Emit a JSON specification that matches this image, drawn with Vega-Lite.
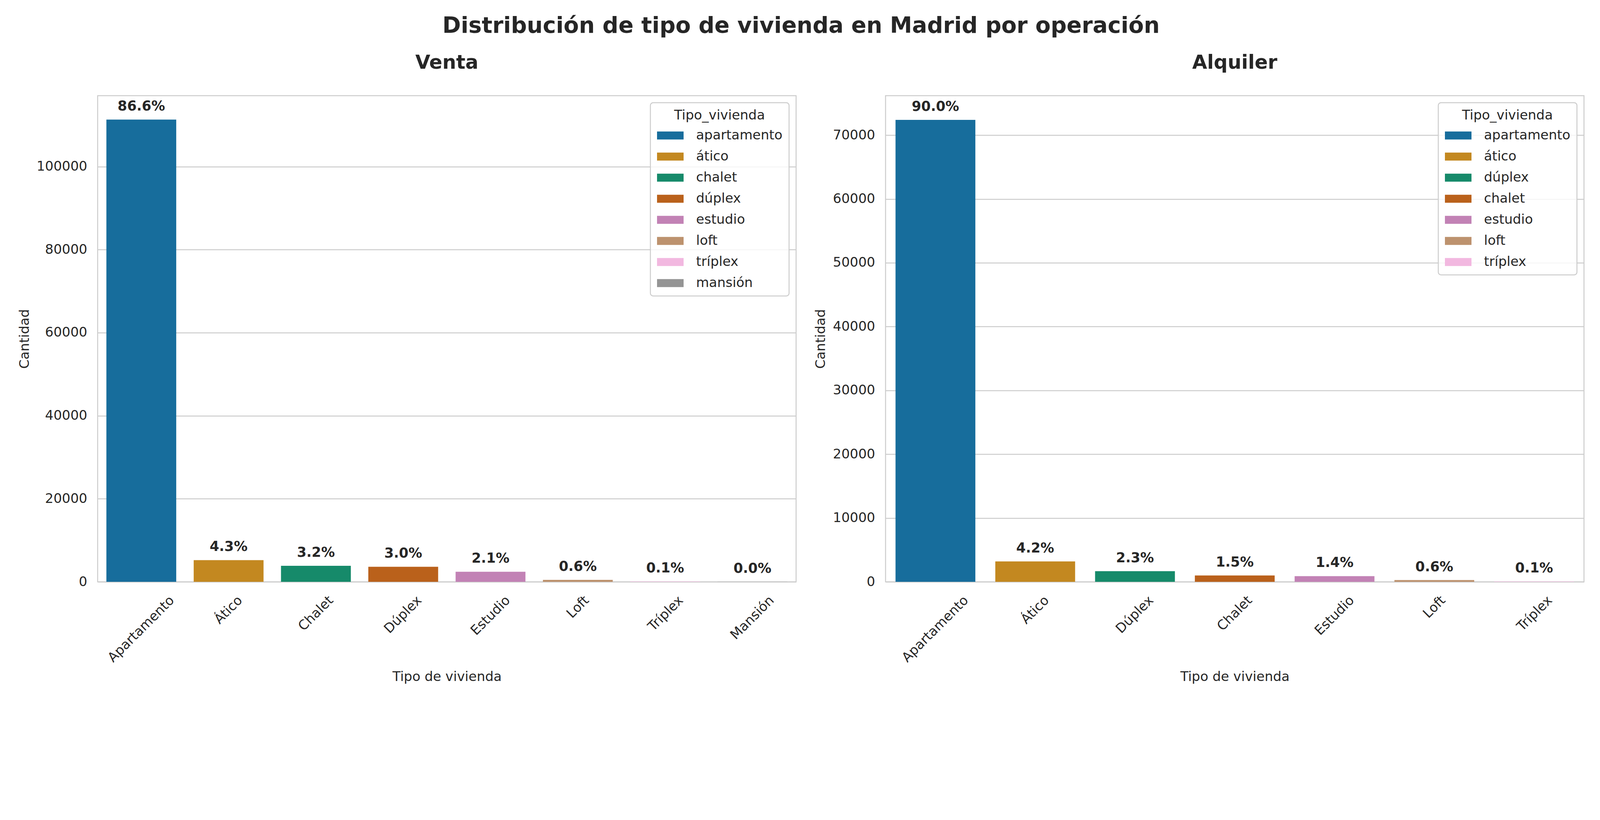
{
  "$schema": "https://vega.github.io/schema/vega-lite/v6.json",
  "background": "white",
  "padding": {"left": 44, "top": 38, "right": 30, "bottom": 8},
  "title": {
    "text": "Distribución de tipo de vivienda en Madrid por operación",
    "fontSize": 57, "font": "DejaVu Sans", "fontWeight": "bold", "color": "#262626",
    "anchor": "middle", "offset": 38
  },
  "datasets": {
    "venta": [
      {"Tipo": "Apartamento", "Tipo_vivienda": "apartamento", "Cantidad": 111300, "Porcentaje": "86.6%"},
      {"Tipo": "Ático", "Tipo_vivienda": "ático", "Cantidad": 5225, "Porcentaje": "4.3%"},
      {"Tipo": "Chalet", "Tipo_vivienda": "chalet", "Cantidad": 3850, "Porcentaje": "3.2%"},
      {"Tipo": "Dúplex", "Tipo_vivienda": "dúplex", "Cantidad": 3630, "Porcentaje": "3.0%"},
      {"Tipo": "Estudio", "Tipo_vivienda": "estudio", "Cantidad": 2430, "Porcentaje": "2.1%"},
      {"Tipo": "Loft", "Tipo_vivienda": "loft", "Cantidad": 470, "Porcentaje": "0.6%"},
      {"Tipo": "Tríplex", "Tipo_vivienda": "tríplex", "Cantidad": 90, "Porcentaje": "0.1%"},
      {"Tipo": "Mansión", "Tipo_vivienda": "mansión", "Cantidad": 12, "Porcentaje": "0.0%"}
    ],
    "alquiler": [
      {"Tipo": "Apartamento", "Tipo_vivienda": "apartamento", "Cantidad": 72400, "Porcentaje": "90.0%"},
      {"Tipo": "Ático", "Tipo_vivienda": "ático", "Cantidad": 3190, "Porcentaje": "4.2%"},
      {"Tipo": "Dúplex", "Tipo_vivienda": "dúplex", "Cantidad": 1675, "Porcentaje": "2.3%"},
      {"Tipo": "Chalet", "Tipo_vivienda": "chalet", "Cantidad": 1000, "Porcentaje": "1.5%"},
      {"Tipo": "Estudio", "Tipo_vivienda": "estudio", "Cantidad": 890, "Porcentaje": "1.4%"},
      {"Tipo": "Loft", "Tipo_vivienda": "loft", "Cantidad": 270, "Porcentaje": "0.6%"},
      {"Tipo": "Tríplex", "Tipo_vivienda": "tríplex", "Cantidad": 60, "Porcentaje": "0.1%"}
    ]
  },
  "spacing": 43,
  "hconcat": [
    {
      "title": {"text": "Venta", "fontSize": 49.5, "fontWeight": "bold", "font": "DejaVu Sans", "color": "#262626", "baseline": "alphabetic", "offset": 20, "anchor": "middle"},
      "data": {"name": "venta"},
      "width": 1788,
      "height": 1245,
      "encoding": {
        "x": {
          "field": "Tipo", "type": "nominal",
          "sort": ["Apartamento", "Ático", "Chalet", "Dúplex", "Estudio", "Loft", "Tríplex", "Mansión"],
          "title": "Tipo de vivienda",
          "scale": {"paddingInner": 0.2, "paddingOuter": 0.1}
        },
        "y": {
          "field": "Cantidad", "type": "quantitative", "title": "Cantidad",
          "scale": {"domain": [0, 117070], "nice": false},
          "axis": {"values": [0, 20000, 40000, 60000, 80000, 100000], "format": "d"}
        }
      },
      "layer": [
        {
          "mark": {"type": "bar"},
          "encoding": {
            "color": {
              "field": "Tipo_vivienda", "type": "nominal",
              "scale": {
                "domain": ["apartamento", "ático", "chalet", "dúplex", "estudio", "loft", "tríplex", "mansión"],
                "range": ["#176d9c", "#c38820", "#168a6a", "#ba611b", "#c282b5", "#bd926e", "#f2b8e0", "#949494"]
              },
              "legend": {"title": "Tipo_vivienda", "encode": {"legend": {"update": {"strokeWidth": {"value": 2.5}}}}}
            }
          }
        },
        {
          "mark": {"type": "text", "dy": -23, "baseline": "alphabetic", "fontWeight": "bold", "fontSize": 35, "font": "DejaVu Sans", "color": "#262626"},
          "encoding": {"text": {"field": "Porcentaje", "type": "nominal"}}
        }
      ]
    },
    {
      "title": {"text": "Alquiler", "fontSize": 49.5, "fontWeight": "bold", "font": "DejaVu Sans", "color": "#262626", "baseline": "alphabetic", "offset": 20, "anchor": "middle"},
      "data": {"name": "alquiler"},
      "width": 1788,
      "height": 1245,
      "encoding": {
        "x": {
          "field": "Tipo", "type": "nominal",
          "sort": ["Apartamento", "Ático", "Dúplex", "Chalet", "Estudio", "Loft", "Tríplex"],
          "title": "Tipo de vivienda",
          "scale": {"paddingInner": 0.2, "paddingOuter": 0.1}
        },
        "y": {
          "field": "Cantidad", "type": "quantitative", "title": "Cantidad",
          "scale": {"domain": [0, 76190], "nice": false},
          "axis": {"values": [0, 10000, 20000, 30000, 40000, 50000, 60000, 70000], "format": "d"}
        }
      },
      "layer": [
        {
          "mark": {"type": "bar"},
          "encoding": {
            "color": {
              "field": "Tipo_vivienda", "type": "nominal",
              "scale": {
                "domain": ["apartamento", "ático", "dúplex", "chalet", "estudio", "loft", "tríplex"],
                "range": ["#176d9c", "#c38820", "#168a6a", "#ba611b", "#c282b5", "#bd926e", "#f2b8e0"]
              },
              "legend": {"title": "Tipo_vivienda", "encode": {"legend": {"update": {"strokeWidth": {"value": 2.5}}}}}
            }
          }
        },
        {
          "mark": {"type": "text", "dy": -23, "baseline": "alphabetic", "fontWeight": "bold", "fontSize": 35, "font": "DejaVu Sans", "color": "#262626"},
          "encoding": {"text": {"field": "Porcentaje", "type": "nominal"}}
        }
      ]
    }
  ],
  "resolve": {
    "scale": {"color": "independent", "x": "independent", "y": "independent"},
    "legend": {"color": "independent"}
  },
  "config": {
    "font": "DejaVu Sans",
    "view": {"stroke": "#cccccc", "strokeWidth": 2.5},
    "axis": {
      "labelFont": "DejaVu Sans", "titleFont": "DejaVu Sans",
      "labelFontSize": 34, "titleFontSize": 34,
      "labelColor": "#262626", "titleColor": "#262626",
      "titleFontWeight": "normal",
      "ticks": false, "tickSize": 0, "domain": false,
      "gridColor": "#cccccc", "gridWidth": 2.5
    },
    "axisX": {
      "grid": false, "labelAngle": -45, "labelAlign": "right", "labelBaseline": "middle",
      "labelPadding": 42, "titlePadding": 26, "labelOverlap": false, "labelBound": false, "labelLimit": 0,
      "labelOffset": {
        "condition": [
          {"test": "datum.label === 'Apartamento'", "value": 79},
          {"test": "datum.label === 'Ático'", "value": 30},
          {"test": "datum.label === 'Chalet'", "value": 39},
          {"test": "datum.label === 'Dúplex'", "value": 42},
          {"test": "datum.label === 'Estudio'", "value": 45},
          {"test": "datum.label === 'Loft'", "value": 23},
          {"test": "datum.label === 'Tríplex'", "value": 41},
          {"test": "datum.label === 'Mansión'", "value": 50}
        ],
        "value": 40
      }
    },
    "axisY": {"grid": true, "labelPadding": 27, "titlePadding": 13},
    "legend": {
      "orient": "top-right", "offset": 18, "padding": 16,
      "fillColor": "rgba(255,255,255,0.8)", "strokeColor": "#cccccc", "cornerRadius": 7,
      "titleFontSize": 34, "labelFontSize": 34,
      "titleFont": "DejaVu Sans", "labelFont": "DejaVu Sans",
      "titleFontWeight": "normal", "titleColor": "#262626", "labelColor": "#262626",
      "symbolType": "M-2,-0.6H2V0.6H-2Z", "symbolSize": 1156,
      "symbolStrokeWidth": 0, "symbolOpacity": 1, "symbolOffset": 18,
      "labelOffset": 49, "rowPadding": 20, "titlePadding": 17,
      "titleAnchor": "middle", "titleAlign": "center", "titleBaseline": "top",
      "titleLimit": 0, "labelLimit": 0
    }
  }
}
